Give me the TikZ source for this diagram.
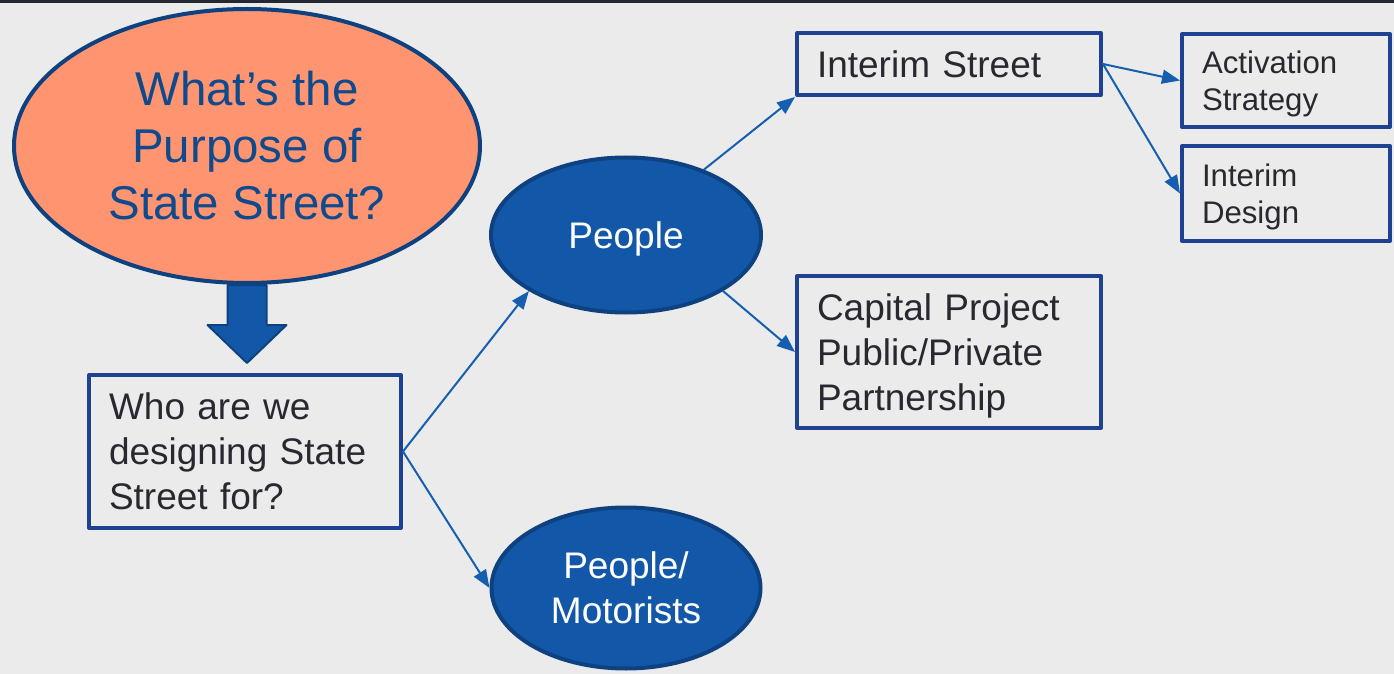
\documentclass[tikz,border=0pt]{standalone}
\usepackage{fontspec}
\setmainfont{Liberation Sans}
\usetikzlibrary{shapes.geometric,arrows.meta}

\definecolor{bggray}{HTML}{EBEBEB}
\definecolor{topbar}{HTML}{252833}
\definecolor{salmon}{HTML}{FF9470}
\definecolor{ringblue}{HTML}{0E4180}
\definecolor{titleblue}{HTML}{0F4A8C}
\definecolor{fillblue}{HTML}{1358A8}
\definecolor{boxblue}{HTML}{1E4191}
\definecolor{linkblue}{HTML}{165EB0}
\definecolor{txtgray}{HTML}{282830}

\begin{document}
\begin{tikzpicture}[line cap=round,line join=round,x=0.5pt,y=-0.5pt,
  bubble/.style={ellipse, draw=ringblue, line width=2pt, fill=fillblue, text=white, inner sep=0pt, align=center, font=\fontsize{18.5}{22.5}\selectfont},
  box/.style={draw=boxblue, line width=2pt, inner xsep=10pt, inner ysep=0pt, align=left, text=txtgray, font=\fontsize{18.5}{22.5}\selectfont},
  smallbox/.style={box, text width=84pt, text depth=18.5pt, font=\fontsize{15.6}{18.5}\selectfont},
  link/.style={draw=linkblue, line width=1pt, -{Triangle[length=9pt,width=7pt]}}]

\fill [bggray] (0,0) rectangle (1394,674);
\fill [topbar] (0,0) rectangle (1394,3);
\useasboundingbox (0,0) rectangle (1394,674);

\node [ellipse, draw=ringblue, line width=2pt, fill=salmon, text=titleblue, minimum width=233pt, minimum height=137pt, inner sep=0pt, align=center, font=\fontsize{23.7}{28.5}\selectfont] (purpose) at (247,146) {What’s the\\Purpose of\\State Street?};
\node [box, text width=136pt, minimum height=76.5pt] (who) at (245,451.5) {Who are we\\designing State\\Street for?};

\node [bubble, minimum width=135pt, minimum height=77.5pt, text depth=0pt] (people) at (626,235) {People};
\node [bubble, minimum width=134.5pt, minimum height=80.5pt] (motor) at (626,588) {People/\\Motorists};

\node [box, text width=132pt, minimum height=31pt] (istreet) at (949,64) {Interim Street};
\node [box, text width=132pt, minimum height=76pt, text depth=45pt] (capital) at (949,352) {Capital Project\\Public/Private\\Partnership};

\node [smallbox, minimum height=46.5pt] (activ) at (1286,80.5) {Activation\\Strategy};
\node [smallbox, minimum height=47.5pt] (idesign) at (1286,193.5) {Interim\\Design};

\draw [fill=fillblue, draw=ringblue, line width=1pt] ([xshift=-9.75pt]purpose.south) -- ++(0,40) -- ++(-20,0) -- ++(39.5,38) -- ++(39.5,-38) -- ++(-20,0) -- ++(0,-40) -- cycle;

\draw [link] (who.east) -- (people.210);
\draw [link] (who.east) -- (motor.west);

\draw [link] (people.40) -- (istreet.south west);
\draw [link] (people.-30) -- (capital.west);

\draw [link] (istreet.east) -- (activ.west);
\draw [link] (istreet.east) -- (idesign.west);
\end{tikzpicture}
\end{document}
